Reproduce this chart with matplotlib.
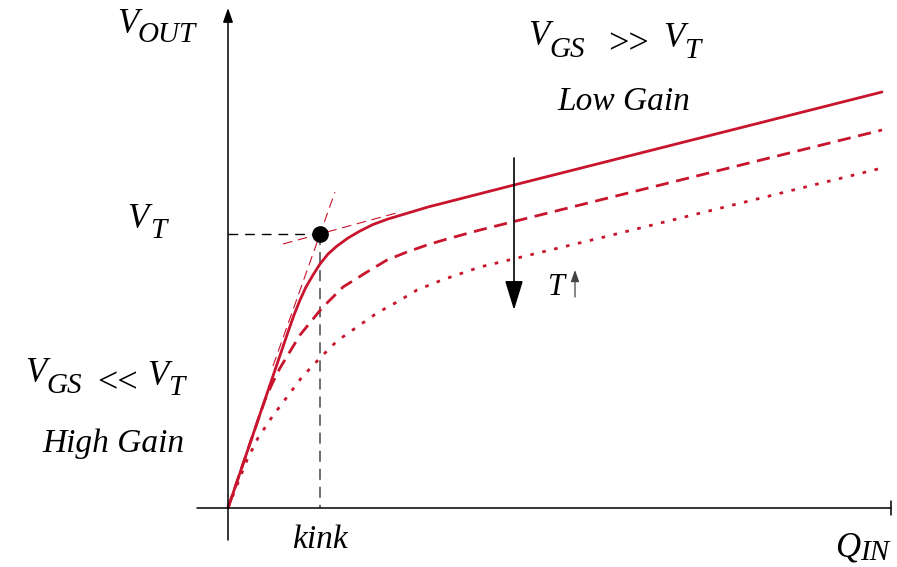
import matplotlib
matplotlib.use("Agg")
import matplotlib.pyplot as plt

plt.rcParams["lines.scale_dashes"] = False

# transfer curves V_OUT(Q_IN) for rising temperature
solid_x = [0, 0.60, 0.66, 0.72, 0.78, 0.85, 0.92, 1.00, 1.09, 1.20, 1.32, 1.45, 1.60, 1.80, 2.00, 2.86, 6.54]
solid_y = [0, 1.76, 1.93, 2.08, 2.21, 2.33, 2.44, 2.54, 2.62, 2.70, 2.77, 2.835, 2.89, 2.95, 3.01, 3.23, 4.16]

dashed_x = [0, 0.30, 0.37, 0.44, 0.52, 0.72, 0.94, 1.15, 1.39, 1.59, 1.79, 1.99, 2.19, 2.52, 3.72, 6.54]
dashed_y = [0, 0.88, 1.08, 1.24, 1.40, 1.73, 2.00, 2.21, 2.36, 2.48, 2.56, 2.63, 2.69, 2.78, 3.08, 3.78]

dotted_x = [0, 0.19, 0.30, 0.44, 0.59, 0.74, 0.92, 1.09, 1.29, 1.49, 1.69, 1.89, 2.14, 2.52, 3.72, 6.54]
dotted_y = [0, 0.48, 0.70, 0.91, 1.11, 1.31, 1.50, 1.67, 1.81, 1.95, 2.06, 2.18, 2.28, 2.41, 2.70, 3.40]

# kink point and the two tangents meeting there
kink_x = 0.92
kink_y = 2.74
steep_x = [0.45, 1.07]
steep_y = [1.42, 3.16]
flat_x = [0.55, 1.72]
flat_y = [2.64, 2.96]

# temperature arrow
temp_x = 2.86
temp_top = 3.50
temp_bottom = 1.98

red = "#c8142c"
serif = "Liberation Serif"

fig = plt.figure(figsize=(8.97, 5.67), dpi=100)
ax = fig.add_axes([0, 0, 1, 1])
ax.set_xlim(-2.28, 6.69)
ax.set_ylim(-0.59, 5.08)
ax.axis("off")

# axes with arrow on V_OUT and end bar on Q_IN
ax.annotate("", xy=(0, 5.00), xytext=(0, -0.32),
            arrowprops=dict(arrowstyle="-|>,head_length=0.85,head_width=0.3", color="black",
                            lw=1.1, shrinkA=0, shrinkB=0, mutation_scale=10))
ax.annotate("", xy=(6.63, 0), xytext=(-0.31, 0),
            arrowprops=dict(arrowstyle="|-|,widthA=0,widthB=0.35", color="black",
                            lw=1.1, shrinkA=0, shrinkB=0, mutation_scale=14))

# guide lines to the kink
ax.plot([0, kink_x], [kink_y, kink_y], color="black", lw=1.0, dashes=(7, 5))
ax.plot([kink_x, kink_x], [kink_y, 0], color="#555555", lw=1.2, dashes=(8, 5))

# tangents
ax.plot(steep_x, steep_y, color=red, lw=0.8, dashes=(7, 4))
ax.plot(flat_x, flat_y, color=red, lw=0.8, dashes=(7, 4))

# curves
ax.plot(solid_x, solid_y, color=red, lw=2.0, solid_capstyle="round", solid_joinstyle="round")
ax.plot(dashed_x, dashed_y, color=red, lw=2.0, dashes=(9.5, 5.5))
ax.plot(dotted_x, dotted_y, color=red, lw=2.0, dashes=(2.6, 6.2))

ax.plot(kink_x, kink_y, "o", color="black", markersize=11)

ax.annotate("", xy=(temp_x, temp_bottom), xytext=(temp_x, temp_top),
            arrowprops=dict(arrowstyle="-|>,head_length=1.3,head_width=0.4", color="black",
                            lw=1.2, shrinkA=0, shrinkB=0, mutation_scale=14))
ax.annotate("", xy=(3.47, 2.38), xytext=(3.47, 2.11),
            arrowprops=dict(arrowstyle="-|>,head_length=0.5,head_width=0.18", color="#444444",
                            lw=0.9, shrinkA=0, shrinkB=0, mutation_scale=14))


def label(x, y, s, size=25, italic=True):
    ax.text(x, y, s, fontsize=size, family=serif, fontstyle="italic" if italic else "normal",
            ha="left", va="baseline")


# axis labels
label(-1.11, 4.75, "V")
label(-0.90, 4.66, "OUT", 21)
label(-1.01, 2.80, "V")
label(-0.78, 2.70, "T", 21)
label(6.07, -0.48, "Q")
label(6.32, -0.52, "IN", 21)
label(0.64, -0.40, "kink", 24)
label(3.20, 2.13, "T", 22)

# low gain region
label(3.00, 4.63, "V")
label(3.21, 4.51, "GS", 21)
label(3.80, 4.55, ">>", 26, italic=False)
label(4.35, 4.61, "V")
label(4.56, 4.50, "T", 21)
label(3.29, 3.98, "Low Gain", 24)

# high gain region
label(-2.03, 1.26, "V")
label(-1.82, 1.15, "GS", 21)
label(-1.31, 1.16, "<<", 26, italic=False)
label(-0.81, 1.23, "V")
label(-0.60, 1.13, "T", 21)
label(-1.86, 0.56, "High Gain", 24)

fig.savefig("out.png", dpi=100)
